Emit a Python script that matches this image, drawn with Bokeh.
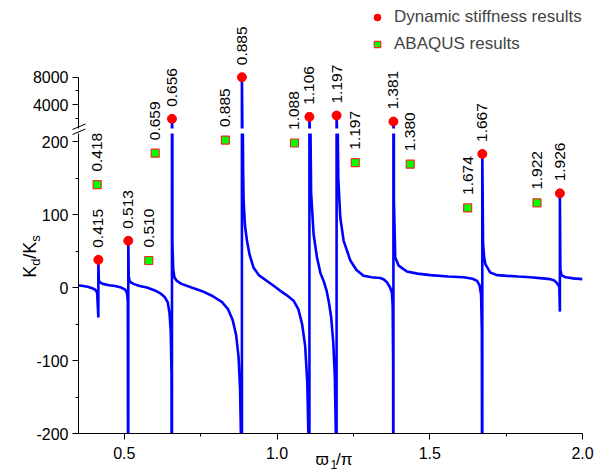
import math
from bokeh.plotting import figure
from bokeh.models import (ColumnDataSource, LabelSet, FixedTicker, Range1d,
                          Legend, LegendItem)
from bokeh.embed import file_html
from bokeh.resources import INLINE
from bokeh.core.properties import value

FONT = "Liberation Sans"

# ---------------- data ----------------
curve_x = [0.350, 0.365, 0.380, 0.395, 0.405, 0.411, 0.415, 0.415,
           0.4165, 0.420, 0.430, 0.450, 0.470, 0.490, 0.503, 0.509, 0.5115, 0.513, 0.513,
           0.5145, 0.518, 0.530, 0.550, 0.574, 0.600, 0.618, 0.632, 0.642, 0.648, 0.652, 0.6545, 0.656, 0.656,
           0.6575, 0.660, 0.664, 0.672, 0.687, 0.720, 0.755, 0.790, 0.820, 0.840, 0.855, 0.866, 0.874, 0.879, 0.8825, 0.885, 0.885,
           0.8865, 0.8890, 0.8905, 0.8950, 0.9016, 0.9100, 0.9233, 0.9400, 0.9670, 0.9900, 1.0106, 1.0300, 1.0540,
           1.070, 1.082, 1.092, 1.099, 1.1035, 1.106, 1.106,
           1.1075, 1.1115, 1.1197, 1.1308, 1.1420, 1.1524, 1.1620, 1.1688, 1.177, 1.184, 1.189, 1.1925, 1.195, 1.195,
           1.1965, 1.2005, 1.207, 1.218, 1.240, 1.260, 1.283, 1.310, 1.338, 1.350, 1.360, 1.370, 1.376, 1.3785, 1.3800, 1.381, 1.381,
           1.3825, 1.387, 1.398, 1.425, 1.460, 1.502, 1.560, 1.611, 1.640, 1.655, 1.663, 1.668, 1.6705, 1.672, 1.672,
           1.6745, 1.678, 1.682, 1.698, 1.720, 1.753, 1.790, 1.829, 1.870, 1.894, 1.908, 1.914, 1.920, 1.924, 1.926, 1.926,
           1.9275, 1.931, 1.945, 1.970, 2.000]
curve_y = [3, 2, 1, -1, -3, -7, -41, 38,
           10, 7, 5, 3, 2, 0, -3, -8, -20, -600, 64,
           15, 8, 5, 2, 0, -4, -8, -13, -20, -35, -60, -120, -600, 1900,
           60, 25, 14, 9, 5, 0, -5, -12, -20, -30, -45, -65, -95, -140, -220, -600, 8000,
           300, 160, 119, 85, 64, 45, 27, 17, 9, 2, -4.5, -10, -18,
           -30, -50, -80, -130, -220, -600, 2190,
           300, 130, 73, 41, 20, 9, -4, -18, -40, -75, -120, -200, -600, 2390,
           300, 150, 96, 64, 37, 24, 16, 14, 13, 11, 7, 0, -7, -25, -100, -600, 1500,
           120, 41, 30, 22, 19, 17, 15, 14, 12, 9, 3, -10, -60, -600, 183,
           60, 42, 32, 20.5, 17, 16, 15, 14, 12.5, 11.5, 9.5, 7, 4, 1, -33, 129,
           25, 17, 14, 12.5, 11.5]

ds_x = [0.415, 0.513, 0.656, 0.885, 1.106, 1.195, 1.381, 1.672, 1.926]
ds_y = [38, 64, 1900, 8000, 2190, 2390, 1500, 183, 129]
ds_labels = ["0.415", "0.513", "0.656", "0.885", "1.106", "1.197", "1.381", "1.667", "1.926"]

ab_x = [0.411, 0.580, 0.601, 0.831, 1.057, 1.256, 1.436, 1.624, 1.851]
ab_y = [141, 37, 184, 202, 198, 171, 169, 109, 116]
ab_labels = ["0.418", "0.510", "0.659", "0.885", "1.088", "1.197", "1.380", "1.674", "1.922"]

x_ticks = [0.5, 1.0, 1.5, 2.0]
x_tick_labels = ["0.5", "1.0", "1.5", "2.0"]
x_minor = [0.75, 1.25, 1.75]
y_low_ticks = [-200, -100, 0, 100, 200]
y_low_tick_labels = ["-200", "-100", "0", "100", "200"]
y_low_minor = [-150, -50, 50, 150]
y_up_ticks = [4000, 8000]
y_up_tick_labels = ["4000", "8000"]
y_up_minor = [2000, 6000]

# ---------------- layout constants ----------------
W, H = 609, 471
PLOT_L, PLOT_R = 78, 582
LOW_TOP, LOW_BOT = 133, 433
UP_TOP, UP_BOT = 0, 128
X_RANGE = (0.35, 2.0)
LOW_RANGE = (-200, 211)
UP_RANGE = (485, 19237)
UP_AXIS_TOP = 8000
SPLIT = 300

sx = (PLOT_R - PLOT_L) / (X_RANGE[1] - X_RANGE[0])
ky = (LOW_BOT - LOW_TOP) / (LOW_RANGE[1] - LOW_RANGE[0])
kup = (UP_BOT - UP_TOP) / (UP_RANGE[1] - UP_RANGE[0])
T_X = (X_RANGE[0] - PLOT_L / sx, X_RANGE[1] + (W - PLOT_R) / sx)
T_Y = (LOW_RANGE[0] - (H - LOW_BOT) / ky, LOW_RANGE[1] + LOW_TOP / ky)
T_UP = (UP_RANGE[0] - (H - UP_BOT) / kup, UP_RANGE[1] + UP_TOP / kup)


def cx(px):  # canvas px -> overlay data x
    return T_X[0] + px / sx


def cy(py):  # canvas px -> overlay data y (lower scale)
    return T_Y[1] - py / ky


def style_axis(ax, ticks, minor, labels):
    ax.ticker = FixedTicker(ticks=ticks, minor_ticks=minor)
    ax.major_label_overrides = {t: s for t, s in zip(ticks, labels)}
    ax.axis_line_color = "black"
    ax.axis_line_width = 1
    ax.major_tick_line_color = "black"
    ax.minor_tick_line_color = "black"
    ax.major_tick_out = 6
    ax.major_tick_in = 0
    ax.minor_tick_out = 3
    ax.minor_tick_in = 0
    ax.major_label_text_font = FONT
    ax.major_label_text_font_size = "16px"
    ax.major_label_text_color = "black"


OVERLAY = {"position": "absolute", "top": "0px", "left": "0px"}


def base_fig(xr, yr, xaxis, yaxis, left, right, top, bottom, transparent):
    f = figure(width=W, height=H, x_range=Range1d(*xr), y_range=Range1d(*yr),
               output_backend="svg", toolbar_location=None,
               x_axis_location=("below" if xaxis else None),
               y_axis_location=("left" if yaxis else None),
               min_border_left=left, min_border_right=right,
               min_border_top=top, min_border_bottom=bottom)
    f.outline_line_color = None
    f.grid.visible = False
    if transparent:
        f.background_fill_alpha = 0
        f.border_fill_alpha = 0
        f.styles = dict(OVERLAY)
    else:
        f.background_fill_color = "white"
        f.border_fill_color = "white"
    return f


# lower segment (bottom layer)
low = base_fig(X_RANGE, LOW_RANGE, True, True, PLOT_L, W - PLOT_R, LOW_TOP, H - LOW_BOT, False)
low.line(curve_x, curve_y, line_color="#0000FF", line_width=2.6)
style_axis(low.yaxis[0], y_low_ticks, y_low_minor, y_low_tick_labels)
style_axis(low.xaxis[0], x_ticks, x_minor, x_tick_labels)
low.xaxis[0].major_label_standoff = 7
low.yaxis[0].major_label_standoff = 4

# upper segment
up = base_fig(X_RANGE, UP_RANGE, False, True, PLOT_L, W - PLOT_R, UP_TOP, H - UP_BOT, True)
up.line(curve_x, curve_y, line_color="#0000FF", line_width=2.6)
style_axis(up.yaxis[0], y_up_ticks, y_up_minor, y_up_tick_labels)
up.yaxis[0].bounds = (UP_RANGE[0], UP_AXIS_TOP)
up.yaxis[0].major_label_standoff = 4

# overlay for markers and texts
ov = base_fig(T_X, T_Y, False, False, 0, 0, 0, 0, True)
ov.extra_y_ranges = {"up": Range1d(*T_UP)}

lo_idx = [i for i, y in enumerate(ds_y) if y < SPLIT]
hi_idx = [i for i, y in enumerate(ds_y) if y >= SPLIT]
dot_kw = dict(marker="circle", size=9, fill_color="#FF0000", line_color="#FF0000")
r_dot_lo = ov.scatter([ds_x[i] for i in lo_idx], [ds_y[i] for i in lo_idx], **dot_kw)
r_dot_hi = ov.scatter([ds_x[i] for i in hi_idx], [ds_y[i] for i in hi_idx], y_range_name="up", **dot_kw)
r_sq = ov.scatter(ab_x, ab_y, marker="square", size=8, fill_color="#00FF00",
                  line_color="#E83020", line_width=1.2)

lab_kw = dict(x="x", y="y", text="t", angle=math.pi / 2, text_align="left",
              text_baseline="middle", text_font=value(FONT), text_font_size="15.5px",
              text_color="black")
src_lo = ColumnDataSource(dict(x=[ds_x[i] for i in lo_idx], y=[ds_y[i] for i in lo_idx],
                               t=[ds_labels[i] for i in lo_idx]))
src_hi = ColumnDataSource(dict(x=[ds_x[i] for i in hi_idx], y=[ds_y[i] for i in hi_idx],
                               t=[ds_labels[i] for i in hi_idx]))
src_ab = ColumnDataSource(dict(x=ab_x, y=ab_y, t=ab_labels))
ov.add_layout(LabelSet(source=src_lo, y_offset=12, **lab_kw))
ov.add_layout(LabelSet(source=src_hi, y_offset=12, y_range_name="up", **lab_kw))
ov.add_layout(LabelSet(source=src_ab, y_offset=13, **lab_kw))

legend = Legend(items=[LegendItem(label="Dynamic stiffness results", renderers=[r_dot_lo, r_dot_hi]),
                       LegendItem(label="ABAQUS results", renderers=[r_sq])],
                location=(369, H - 54), padding=0, margin=0, spacing=7,
                glyph_height=20, glyph_width=16, label_height=20, label_standoff=9,
                label_text_font=FONT, label_text_font_size="17px",
                border_line_color=None, background_fill_alpha=0)
ov.add_layout(legend, "center")

# y axis title  K_d / K_s (rotated, composed with subscripts)
main_fs, sub_fs = 18, 13
wK, wd, wsl = 0.667 * main_fs, 0.556 * sub_fs, 0.278 * main_fs
ws = 0.5 * sub_fs
L = wK + wd + wsl + wK + ws
yb = 256 + L / 2
for txt, px, py, fs in [("K", 29, yb, main_fs), ("d", 35, yb - wK, sub_fs),
                        ("/K", 29, yb - wK - wd, main_fs), ("s", 35, yb - wK - wd - wsl - wK, sub_fs)]:
    ov.text(x=[cx(px)], y=[cy(py)], text=[txt], angle=math.pi / 2, text_align="left",
            text_baseline="alphabetic", text_font=value(FONT), text_font_size=f"{fs}px",
            text_color="black")

# x axis title  ϖ_1/π
for txt, px, py, fs in [("\u03d6", 315, 459, 17), ("1", 330, 463.5, 12), ("/\u03c0", 335.5, 459, 17)]:
    ov.text(x=[cx(px)], y=[cy(py)], text=[txt], text_align="left", text_baseline="alphabetic",
            text_font=value(FONT), text_font_size=f"{fs}px", text_color="black")

# axis break marks
ov.segment(x0=[cx(72), cx(72)], y0=[cy(129), cy(134)], x1=[cx(85), cx(85)], y1=[cy(123.5), cy(128.5)],
           line_color="black", line_width=1)

open("out.html", "w").write(file_html([low, up, ov], INLINE))
